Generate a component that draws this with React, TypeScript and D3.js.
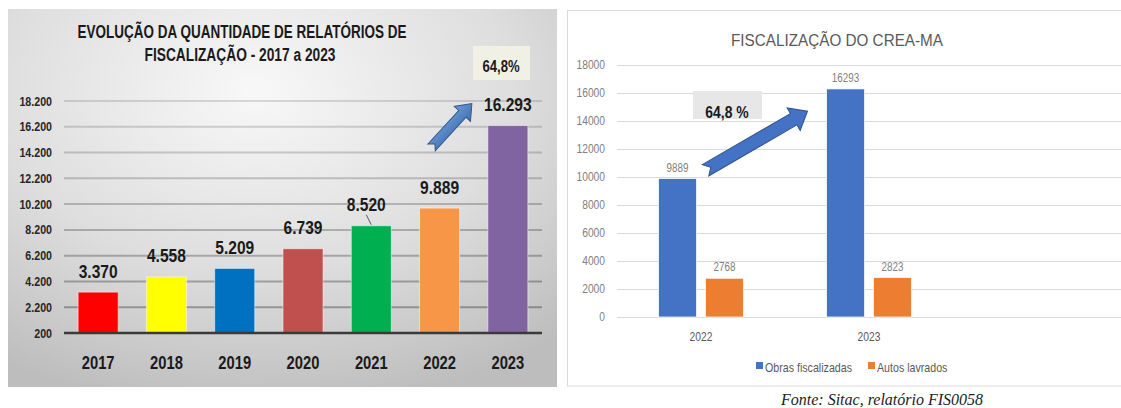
import React, { useRef, useEffect } from 'react';
import * as d3 from 'd3';

// left chart: relatórios de fiscalização per year
const years = ['2017', '2018', '2019', '2020', '2021', '2022', '2023'];
const reports = [3370, 4558, 5209, 6739, 8520, 9889, 16293];
const yearColors = ['#ff0000', '#ffff00', '#0070c0', '#c0504d', '#00b050', '#f79646', '#8064a2'];
const leftTicks = [200, 2200, 4200, 6200, 8200, 10200, 12200, 14200, 16200, 18200];

// right chart: fiscalização do CREA-MA
const creaYears = ['2022', '2023'];
const seriesNames = ['Obras fiscalizadas', 'Autos lavrados'];
const obras = [9889, 16293];
const autos = [2768, 2823];
const seriesColors = ['#4472c4', '#ed7d31'];
const rightTicks = [0, 2000, 4000, 6000, 8000, 10000, 12000, 14000, 16000, 18000];

// no narrow font installed, so squeeze Liberation Sans horizontally
const SANS = "'Liberation Sans', Arial, sans-serif";
const SQ = 0.82;

const ptBR = d3.formatLocale({ decimal: ',', thousands: '.', grouping: [3], currency: ['R$', ''] });
const fmtBR = ptBR.format(',d');

const at = (x, y) => `translate(${x},${y}) scale(${SQ},1)`;

// block arrow with notched tail, tail at (x0,y0) pointing at (x1,y1)
const drawArrow = (g, x0, y0, x1, y1, s, H, h, n, fill, stroke) => {
  const L = Math.hypot(x1 - x0, y1 - y0);
  const ang = Math.atan2(y1 - y0, x1 - x0) * 180 / Math.PI;
  const p = d3.path();
  p.moveTo(0, -s);
  p.lineTo(L - h, -s);
  p.lineTo(L - h, -H);
  p.lineTo(L, 0);
  p.lineTo(L - h, H);
  p.lineTo(L - h, s);
  p.lineTo(0, s);
  p.lineTo(n, 0);
  p.closePath();
  g.append('path')
    .attr('d', p.toString())
    .attr('transform', `translate(${x0},${y0}) rotate(${ang})`)
    .attr('fill', fill)
    .attr('stroke', stroke)
    .attr('stroke-width', 1);
};

const App = () => {
  const svgRef = useRef(null);

  useEffect(() => {
    const svg = d3.select(svgRef.current);
    svg.selectAll('*').remove();

    const defs = svg.append('defs');
    const bg = defs.append('radialGradient')
      .attr('id', 'leftBg')
      .attr('cx', '45%').attr('cy', '22%').attr('r', '85%');
    bg.append('stop').attr('offset', '0%').attr('stop-color', '#f8f8f8');
    bg.append('stop').attr('offset', '55%').attr('stop-color', '#dedede');
    bg.append('stop').attr('offset', '100%').attr('stop-color', '#bdbdbd');

    const arrowGrad = defs.append('linearGradient')
      .attr('id', 'arrowGrad').attr('x1', 0).attr('y1', 0).attr('x2', 0).attr('y2', 1);
    arrowGrad.append('stop').attr('offset', '0%').attr('stop-color', '#6f9bd6');
    arrowGrad.append('stop').attr('offset', '100%').attr('stop-color', '#3f6fb0');

    // ---------- left chart ----------
    const left = svg.append('g');
    left.append('rect')
      .attr('x', 8).attr('y', 9).attr('width', 549).attr('height', 378)
      .attr('fill', 'url(#leftBg)');

    const xL = d3.scaleBand().domain(years).range([64, 542]).paddingInner(0.414).paddingOuter(0.207);
    const yL = d3.scaleLinear().domain([200, 18200]).range([333, 101]);

    left.append('text')
      .attr('x', 242).attr('y', 38)
      .attr('text-anchor', 'middle')
      .attr('font-family', SANS).attr('font-weight', 'bold').attr('font-size', 18)
      .attr('fill', '#1a1a1a')
      .attr('textLength', 329).attr('lengthAdjust', 'spacingAndGlyphs')
      .text('EVOLUÇÃO DA QUANTIDADE DE RELATÓRIOS DE');
    left.append('text')
      .attr('x', 240).attr('y', 61)
      .attr('text-anchor', 'middle')
      .attr('font-family', SANS).attr('font-weight', 'bold').attr('font-size', 18)
      .attr('fill', '#1a1a1a')
      .attr('textLength', 191).attr('lengthAdjust', 'spacingAndGlyphs')
      .text('FISCALIZAÇÃO - 2017 a 2023');

    // gridlines
    left.selectAll('.gl')
      .data(leftTicks.slice(1))
      .enter()
      .append('line')
      .attr('x1', 64).attr('x2', 542)
      .attr('y1', d => yL(d)).attr('y2', d => yL(d))
      .attr('stroke', '#000')
      .attr('stroke-opacity', d => 0.3 - 0.17 * (d - 2200) / 16000)
      .attr('stroke-width', 2);

    left.selectAll('.tl')
      .data(leftTicks)
      .enter()
      .append('text')
      .attr('transform', d => at(52, yL(d)))
      .attr('dy', '0.35em')
      .attr('text-anchor', 'end')
      .attr('font-family', SANS).attr('font-weight', 'bold').attr('font-size', 13)
      .attr('fill', '#262626')
      .text(d => fmtBR(d));

    left.selectAll('.bar')
      .data(reports)
      .enter()
      .append('rect')
      .attr('x', (d, i) => xL(years[i]))
      .attr('y', d => yL(d))
      .attr('width', xL.bandwidth())
      .attr('height', d => yL(200) - yL(d))
      .attr('fill', (d, i) => yearColors[i])
      .attr('stroke', '#ffffff')
      .attr('stroke-opacity', 0.5)
      .attr('stroke-width', 1);

    // axis line
    left.append('line')
      .attr('x1', 64).attr('x2', 542)
      .attr('y1', yL(200)).attr('y2', yL(200))
      .attr('stroke', '#3a3a3a').attr('stroke-width', 2.5);

    left.selectAll('.vl')
      .data(reports)
      .enter()
      .append('text')
      .attr('transform', (d, i) => at(xL(years[i]) + xL.bandwidth() / 2 - (years[i] === '2021' ? 5 : 0), yL(d) - 21))
      .attr('dy', '0.35em')
      .attr('text-anchor', 'middle')
      .attr('font-family', SANS).attr('font-weight', 'bold').attr('font-size', 19)
      .attr('fill', '#1a1a1a')
      .text(d => fmtBR(d));

    // leader line for 2021 label
    const c21 = xL('2021') + xL.bandwidth() / 2;
    left.append('line')
      .attr('x1', c21 - 5).attr('y1', yL(8520) - 11)
      .attr('x2', c21).attr('y2', yL(8520) - 1)
      .attr('stroke', '#595959').attr('stroke-width', 1);

    left.selectAll('.yr')
      .data(years)
      .enter()
      .append('text')
      .attr('transform', d => at(xL(d) + xL.bandwidth() / 2, 369))
      .attr('text-anchor', 'middle')
      .attr('font-family', SANS).attr('font-weight', 'bold').attr('font-size', 18)
      .attr('fill', '#1a1a1a')
      .text(d => d);

    // growth box + arrow
    left.append('rect')
      .attr('x', 473).attr('y', 46).attr('width', 57).attr('height', 34)
      .attr('fill', '#f1f0e4');
    left.append('text')
      .attr('transform', at(501, 66))
      .attr('dy', '0.35em')
      .attr('text-anchor', 'middle')
      .attr('font-family', SANS).attr('font-weight', 'bold').attr('font-size', 16)
      .attr('fill', '#1a1a1a')
      .text('64,8%');
    drawArrow(left,
      xL('2022') + xL.bandwidth() / 2 - 8, yL(14600),
      xL('2023') + xL.bandwidth() / 2 - 36, yL(18000),
      5, 11, 14, 5, 'url(#arrowGrad)', '#30578f');

    // ---------- right chart ----------
    const right = svg.append('g');
    right.append('rect')
      .attr('x', 567.5).attr('y', 10.5).attr('width', 570).attr('height', 375.5)
      .attr('fill', '#ffffff')
      .attr('stroke', '#d9d9d9').attr('stroke-width', 1);

    const x0 = d3.scaleBand().domain(creaYears).range([617, 953]).paddingInner(0.494).paddingOuter(0.247);
    const x1 = d3.scaleBand().domain(seriesNames).range([0, x0.bandwidth()]).paddingInner(0.19);
    const yR = d3.scaleLinear().domain([0, 18000]).range([317, 65]);

    right.append('text')
      .attr('x', 837).attr('y', 46)
      .attr('text-anchor', 'middle')
      .attr('font-family', SANS).attr('font-size', 17)
      .attr('fill', '#595959')
      .attr('textLength', 212).attr('lengthAdjust', 'spacingAndGlyphs')
      .text('FISCALIZAÇÃO DO CREA-MA');

    right.selectAll('.rg')
      .data(rightTicks)
      .enter()
      .append('line')
      .attr('x1', 617).attr('x2', 1121)
      .attr('y1', d => Math.round(yR(d)) + 0.5).attr('y2', d => Math.round(yR(d)) + 0.5)
      .attr('stroke', '#d9d9d9').attr('stroke-width', 1);

    right.selectAll('.rt')
      .data(rightTicks)
      .enter()
      .append('text')
      .attr('transform', d => at(605, yR(d)))
      .attr('dy', '0.35em')
      .attr('text-anchor', 'end')
      .attr('font-family', SANS).attr('font-size', 12.5)
      .attr('fill', '#7f7f7f')
      .text(d => d);

    const series = [obras, autos];
    series.forEach((vals, si) => {
      const g = right.append('g');
      g.selectAll('rect')
        .data(vals)
        .enter()
        .append('rect')
        .attr('x', (d, i) => x0(creaYears[i]) + x1(seriesNames[si]))
        .attr('y', d => yR(d))
        .attr('width', x1.bandwidth())
        .attr('height', d => yR(0) - yR(d))
        .attr('fill', seriesColors[si])
        .attr('stroke', '#ffffff')
        .attr('stroke-width', 0.75);
      g.selectAll('text')
        .data(vals)
        .enter()
        .append('text')
        .attr('transform', (d, i) => at(x0(creaYears[i]) + x1(seriesNames[si]) + x1.bandwidth() / 2, yR(d) - 11))
        .attr('dy', '0.35em')
        .attr('text-anchor', 'middle')
        .attr('font-family', SANS).attr('font-size', 12)
        .attr('fill', '#7f7f7f')
        .text(d => d);
    });

    right.selectAll('.cat')
      .data(creaYears)
      .enter()
      .append('text')
      .attr('transform', d => at(x0(d) + x0.bandwidth() / 2, 337))
      .attr('dy', '0.35em')
      .attr('text-anchor', 'middle')
      .attr('font-family', SANS).attr('font-size', 12.5)
      .attr('fill', '#595959')
      .text(d => d);

    // legend
    const legendX = [756, 868];
    const legend = right.selectAll('.lg')
      .data(seriesNames)
      .enter()
      .append('g')
      .attr('transform', (d, i) => `translate(${legendX[i]},362)`);
    legend.append('rect')
      .attr('width', 7).attr('height', 7)
      .attr('fill', (d, i) => seriesColors[i]);
    legend.append('text')
      .attr('transform', at(9, 5))
      .attr('dy', '0.35em')
      .attr('font-family', SANS).attr('font-size', 13)
      .attr('fill', '#595959')
      .text(d => d);

    // growth box + arrow
    right.append('rect')
      .attr('x', 693).attr('y', 91).attr('width', 69).attr('height', 28)
      .attr('fill', '#e7e7e7');
    right.append('text')
      .attr('transform', at(727, 112))
      .attr('dy', '0.35em')
      .attr('text-anchor', 'middle')
      .attr('font-family', SANS).attr('font-weight', 'bold').attr('font-size', 17)
      .attr('fill', '#1a1a1a')
      .text('64,8 %');
    drawArrow(right,
      x0('2022') + x1('Obras fiscalizadas') + x1.bandwidth() + 9, yR(10480),
      x0('2023') + x1('Obras fiscalizadas') - 19, yR(14700),
      6.5, 13, 16, 6, '#4472c4', '#2f528f');

    // source note
    svg.append('text')
      .attr('x', 781).attr('y', 405)
      .attr('font-family', "'Liberation Serif', 'DejaVu Serif', serif")
      .attr('font-style', 'italic').attr('font-size', 16)
      .attr('fill', '#222222')
      .text('Fonte: Sitac, relatório FIS0058');
  }, []);

  return (
    <div style={{ position: 'absolute', left: 0, top: 0 }}>
      <svg ref={svgRef} width={1121} height={408} style={{ display: 'block', background: '#ffffff' }}></svg>
    </div>
  );
};

export default App;
